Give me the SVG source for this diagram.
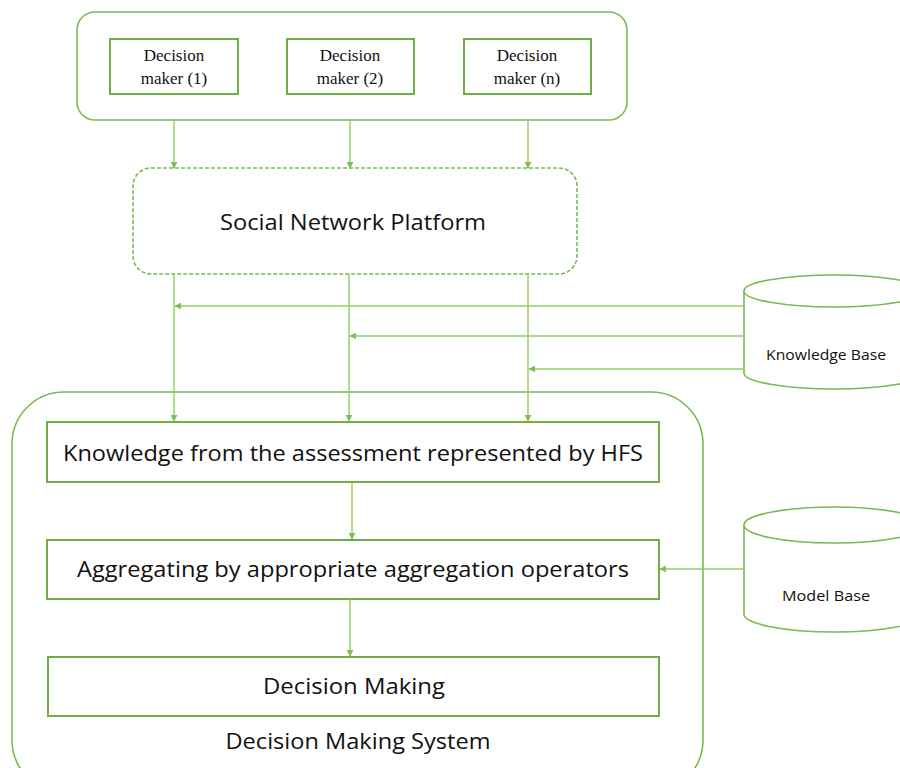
<svg xmlns="http://www.w3.org/2000/svg" width="900" height="768" viewBox="0 0 900 768">
  <style>
    .frame { fill: #ffffff; stroke: #7ab954; stroke-width: 1.6; }
    .dash { fill: #ffffff; stroke: #7ab954; stroke-width: 1.6; stroke-dasharray: 4 2; }
    .box { fill: #ffffff; stroke: #70ad47; stroke-width: 2; }
    .link { fill: none; stroke: #8fcf64; stroke-width: 1.4; marker-end: url(#arrow); }
    .serif { font-family: "Liberation Serif", "Times New Roman", serif; font-size: 17px; fill: #111111; text-anchor: middle; }
    .sans { font-family: "Open Sans", "Liberation Sans", sans-serif; fill: #111111; text-anchor: middle; }
  </style>
  <defs>
    <marker id="arrow" viewBox="0 0 10 10" refX="9" refY="5" markerWidth="7" markerHeight="7" orient="auto" markerUnits="userSpaceOnUse">
      <path d="M0,0 L10,5 L0,10 z" fill="#7cc04f"/>
    </marker>
  </defs>
  <rect width="900" height="768" fill="#ffffff"/>

  <!-- decision makers -->
  <g id="decision-makers">
    <rect class="frame" x="77" y="12" width="550" height="108" rx="18"/>
    <g id="dm1">
      <rect class="box" x="110" y="39" width="128" height="55"/>
      <text class="serif" x="174" y="61">Decision</text>
      <text class="serif" x="174" y="84">maker (1)</text>
    </g>
    <g id="dm2">
      <rect class="box" x="287" y="39" width="127" height="55"/>
      <text class="serif" x="350" y="61">Decision</text>
      <text class="serif" x="350" y="84">maker (2)</text>
    </g>
    <g id="dmn">
      <rect class="box" x="464" y="39" width="127" height="55"/>
      <text class="serif" x="527" y="61">Decision</text>
      <text class="serif" x="527" y="84">maker (n)</text>
    </g>
  </g>

  <!-- social network platform -->
  <g id="social-network">
    <rect class="dash" x="133" y="168" width="444" height="106" rx="18"/>
    <text class="sans" x="353" y="230" font-size="22" textLength="266" lengthAdjust="spacingAndGlyphs">Social Network Platform</text>
  </g>

  <!-- knowledge base -->
  <g id="knowledge-base">
    <path class="frame" d="M744,291 L744,373 A90,16 0 0 0 924,373 L924,291"/>
    <ellipse class="frame" cx="834" cy="291" rx="90" ry="16"/>
    <text class="sans" x="826" y="360" font-size="14.5" textLength="120" lengthAdjust="spacingAndGlyphs">Knowledge Base</text>
  </g>

  <!-- model base -->
  <g id="model-base">
    <path class="frame" d="M744,525 L744,614 A90,18 0 0 0 924,614 L924,525"/>
    <ellipse class="frame" cx="834" cy="525" rx="90" ry="18"/>
    <text class="sans" x="826" y="601" font-size="14.5" textLength="88" lengthAdjust="spacingAndGlyphs">Model Base</text>
  </g>

  <!-- decision making system -->
  <g id="decision-system">
    <rect class="frame" x="12" y="392" width="691" height="400" rx="52"/>
    <text class="sans" x="358" y="749" font-size="22" textLength="265" lengthAdjust="spacingAndGlyphs">Decision Making System</text>
  </g>
  <g id="hfs-knowledge">
    <rect class="box" x="47" y="422" width="612" height="60"/>
    <text class="sans" x="353" y="461" font-size="22" textLength="580" lengthAdjust="spacingAndGlyphs">Knowledge from the assessment represented by HFS</text>
  </g>
  <g id="aggregation">
    <rect class="box" x="47" y="540" width="612" height="59"/>
    <text class="sans" x="353" y="577" font-size="22" textLength="552" lengthAdjust="spacingAndGlyphs">Aggregating by appropriate aggregation operators</text>
  </g>
  <g id="decision-making">
    <rect class="box" x="48" y="657" width="611" height="59"/>
    <text class="sans" x="354" y="694" font-size="22" textLength="182" lengthAdjust="spacingAndGlyphs">Decision Making</text>
  </g>

  <!-- connectors -->
  <g id="connectors">
    <line class="link" x1="174" y1="120" x2="174" y2="168"/>
    <line class="link" x1="350" y1="120" x2="350" y2="168"/>
    <line class="link" x1="528" y1="120" x2="528" y2="168"/>

    <line class="link" x1="174" y1="274" x2="174" y2="421"/>
    <line class="link" x1="349" y1="274" x2="349" y2="421"/>
    <line class="link" x1="528" y1="274" x2="528" y2="421"/>

    <line class="link" x1="744" y1="306" x2="175" y2="306"/>
    <line class="link" x1="744" y1="336" x2="350" y2="336"/>
    <line class="link" x1="744" y1="369" x2="529" y2="369"/>

    <line class="link" x1="352" y1="482" x2="352" y2="539"/>
    <line class="link" x1="350" y1="599" x2="350" y2="656"/>
    <line class="link" x1="744" y1="569" x2="660" y2="569"/>
  </g>
</svg>
